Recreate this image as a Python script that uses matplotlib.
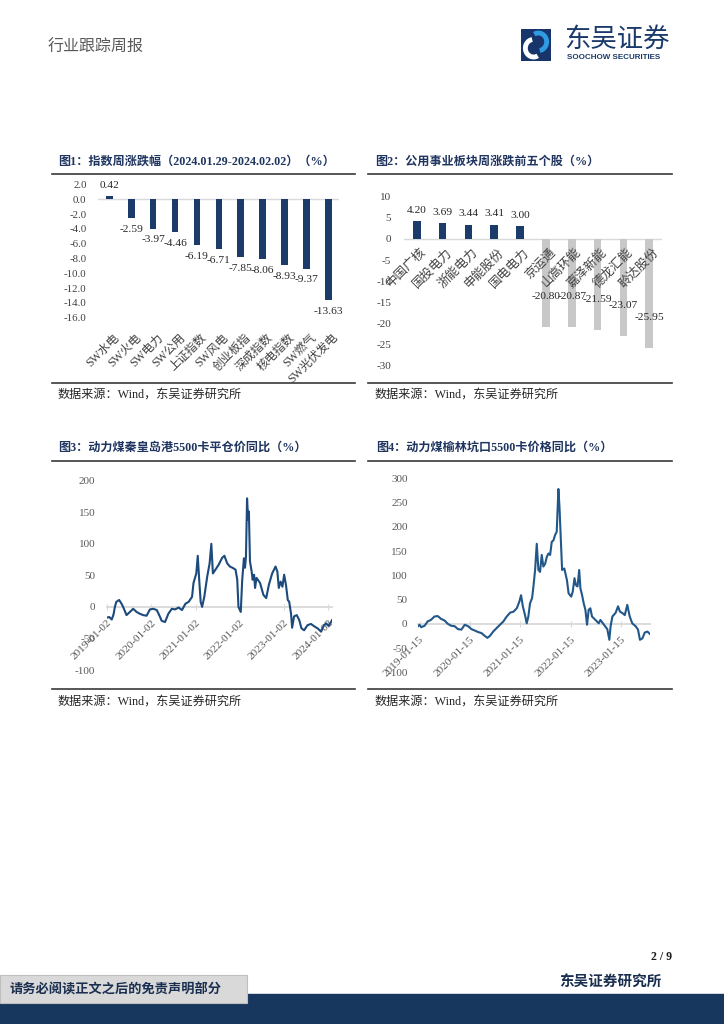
import numpy as np
import pandas as pd
import matplotlib
matplotlib.use("Agg")
import matplotlib.pyplot as plt
from matplotlib.lines import Line2D
from matplotlib.patches import Rectangle, Arc

# ---- data ----
cats1 = ['SW水电', 'SW火电', 'SW电力', 'SW公用', '上证指数', 'SW风电',
         '创业板指', '深成指数', '核电指数', 'SW燃气', 'SW光伏发电']
vals1 = [0.42, -2.59, -3.97, -4.46, -6.19, -6.71, -7.85, -8.06, -8.93, -9.37, -13.63]

cats2 = ['中国广核', '国投电力', '浙能电力', '申能股份', '国电电力',
         '京运通', '山高环能', '嘉泽新能', '德龙汇能', '聆达股份']
vals2 = [4.20, 3.69, 3.44, 3.41, 3.00, -20.80, -20.87, -21.59, -23.07, -25.95]

qhd_dates = ['2019-01-02', '2019-01-20', '2019-02-10', '2019-02-25', '2019-03-08', '2019-03-20',
             '2019-04-12', '2019-05-02', '2019-05-15', '2019-06-12', '2019-07-10', '2019-08-06',
             '2019-09-03', '2019-10-01', '2019-10-28', '2019-11-25', '2019-12-22', '2020-01-19',
             '2020-02-17', '2020-03-15', '2020-03-28', '2020-04-25', '2020-05-22', '2020-06-20',
             '2020-07-17', '2020-08-15', '2020-09-12', '2020-10-10', '2020-11-06', '2020-12-04',
             '2020-12-16', '2021-01-08', '2021-01-20', '2021-02-01', '2021-02-13', '2021-02-25',
             '2021-03-15', '2021-04-08', '2021-04-28', '2021-05-12', '2021-05-25', '2021-06-15',
             '2021-07-12', '2021-08-10', '2021-08-28', '2021-09-20', '2021-10-12', '2021-11-03',
             '2021-11-28', '2021-12-12', '2021-12-22', '2022-01-10', '2022-01-22', '2022-02-05',
             '2022-02-14', '2022-02-22', '2022-03-03', '2022-03-12', '2022-03-18', '2022-03-27',
             '2022-04-10', '2022-04-18', '2022-04-30', '2022-05-08', '2022-05-20', '2022-06-18',
             '2022-07-16', '2022-08-08', '2022-08-30', '2022-09-26', '2022-10-24', '2022-11-08',
             '2022-11-20', '2022-12-05', '2022-12-20', '2023-01-03', '2023-01-18', '2023-02-02',
             '2023-02-14', '2023-03-01', '2023-03-10', '2023-03-26', '2023-04-17', '2023-05-08',
             '2023-05-26', '2023-06-17', '2023-07-15', '2023-08-12', '2023-09-10', '2023-10-06',
             '2023-11-03', '2023-11-25', '2023-12-15', '2024-01-04', '2024-01-25', '2024-02-02']
qhd_vals = [-17, -16, -20, -12, 0, 8,
            11, 5, 0, -13, -8, -3,
            -8, -11, -13, -14, -4, -3,
            -5, -16, -22, -24, -11, -3,
            -4, -1, -5, 5, 8, 16,
            38, 53, 81, 43, 8, 0,
            16, 48, 69, 100, 53, 59,
            67, 78, 81, 69, 64, 62,
            59, 43, 0, -8, 43, 77,
            62, 80, 172, 138, 151, 72,
            56, 43, 51, 30, 46, 38,
            19, 14, 35, 53, 64, 56,
            30, 40, 32, 51, 35, 11,
            8, -11, -33, -15, -13, -21,
            -34, -37, -29, -27, -31, -34,
            -39, -30, -26, -30, -24, -21]
qhd_ticks = ['2019-01-02', '2020-01-02', '2021-01-02', '2022-01-02', '2023-01-02', '2024-01-02']

yl_dates = ['2019-01-04', '2019-01-15', '2019-01-27', '2019-02-21', '2019-03-15', '2019-04-08',
            '2019-05-03', '2019-05-27', '2019-06-21', '2019-07-15', '2019-08-08', '2019-09-02',
            '2019-09-27', '2019-10-21', '2019-11-15', '2019-12-09', '2020-01-03', '2020-01-27',
            '2020-02-21', '2020-03-15', '2020-04-08', '2020-05-03', '2020-05-22', '2020-06-09',
            '2020-07-03', '2020-07-27', '2020-08-21', '2020-09-15', '2020-10-09', '2020-11-03',
            '2020-11-27', '2020-12-21', '2021-01-09', '2021-01-21', '2021-02-03', '2021-02-21',
            '2021-03-03', '2021-03-15', '2021-03-27', '2021-04-11', '2021-04-21', '2021-05-03',
            '2021-05-15', '2021-05-27', '2021-06-08', '2021-06-20', '2021-07-02', '2021-07-15',
            '2021-07-27', '2021-08-08', '2021-08-20', '2021-09-01', '2021-09-13', '2021-09-25',
            '2021-10-07', '2021-10-19', '2021-10-27', '2021-11-06', '2021-11-15', '2021-12-01',
            '2021-12-20', '2022-01-01', '2022-01-20', '2022-01-31', '2022-02-13', '2022-02-23',
            '2022-03-07', '2022-03-19', '2022-03-28', '2022-04-09', '2022-04-21', '2022-05-03',
            '2022-05-15', '2022-05-27', '2022-06-08', '2022-06-20', '2022-07-15', '2022-08-08',
            '2022-08-20', '2022-09-15', '2022-10-09', '2022-10-24', '2022-11-02', '2022-11-15',
            '2022-12-09', '2022-12-26', '2023-01-09', '2023-01-27', '2023-02-13', '2023-03-03',
            '2023-03-21', '2023-04-08', '2023-05-03', '2023-05-20', '2023-06-03', '2023-06-21',
            '2023-07-08', '2023-07-27', '2023-08-15']
yl_vals = [-5, -2, -7, -4, 5, 8,
           15, 16, 10, 7, 0, -4,
           -5, -11, -12, -2, -5, -11,
           -14, -17, -19, -25, -29, -25,
           -16, -9, -2, 5, 15, 23,
           25, 32, 46, 59, 36, 15,
           1, 15, 42, 53, 77, 111,
           165, 111, 107, 142, 118, 124,
           138, 145, 142, 169, 172, 183,
           190, 278, 241, 172, 111, 114,
           90, 63, 56, 66, 94, 80,
           77, 111, 73, 59, 42, 29,
           -2, 29, 32, 15, 8, 1,
           8, -2, -11, -33, -5, 15,
           23, 36, 25, 22, 18, 39,
           15, 1, -5, -12, -33, -30,
           -18, -16, -21]
yl_ticks = ['2019-01-15', '2020-01-15', '2021-01-15', '2022-01-15', '2023-01-15']

# ---- page ----
W, H = 724, 1024
fig = plt.figure(figsize=(7.24, 10.24), dpi=100)

SERIF = ['Liberation Serif', 'Noto Sans CJK SC']
CJK = ['Noto Sans CJK SC']
NAVY = '#1b3c6b'
TITLE_C = '#1f3560'


def box(l, t, r, b):
    return fig.add_axes([l / W, 1 - b / H, (r - l) / W, (b - t) / H])


def ftext(x, y, s, **kw):
    kw.setdefault('va', 'center')
    fig.text(x / W, 1 - y / H, s, **kw)


def hline(x0, x1, y, **kw):
    fig.add_artist(Line2D([x0 / W, x1 / W], [1 - y / H, 1 - y / H], **kw))


# header
ftext(48, 47, '行业跟踪周报', family=CJK, size=11.5, color='#595959')
lg = box(521, 29, 551, 61)
lg.set_xlim(0, 1)
lg.set_ylim(0, 1)
lg.axis('off')
lg.add_patch(Rectangle((0, 0), 1, 1, color='#17356a'))
lg.add_patch(Arc((0.42, 0.40), 0.55, 0.55, theta1=100, theta2=300, color='white', lw=3.5))
lg.add_patch(Arc((0.58, 0.60), 0.55, 0.55, theta1=280, theta2=120, color='#2f9be3', lw=3.5))
ftext(564, 39, '东吴证券', family=CJK, size=19, color='#1a3a6b')
ftext(567, 57.5, 'SOOCHOW SECURITIES', family='Liberation Sans', weight='bold', size=5.8, color='#1a3a6b')

# section frames
titles = [(58, 162, '图1：指数周涨跌幅（2024.01.29-2024.02.02）（%）'),
          (375, 162, '图2：公用事业板块周涨跌前五个股（%）'),
          (58, 448, '图3：动力煤秦皇岛港5500卡平仓价同比（%）'),
          (376, 448, '图4：动力煤榆林坑口5500卡价格同比（%）')]
for x, y, s in titles:
    ftext(x, y, s, family=SERIF, weight='bold', size=8.7, color=TITLE_C)
for x0, x1 in [(52, 355), (368, 672)]:
    hline(x0, x1, 174, color='#3a3a3a', lw=1.2)
    hline(x0, x1, 383, color='#3a3a3a', lw=1.2)
    hline(x0, x1, 461, color='#3a3a3a', lw=1.2)
    hline(x0, x1, 689, color='#3a3a3a', lw=1.2)
src = '数据来源：Wind，东吴证券研究所'
for x, y in [(58, 395), (375, 395), (58, 702), (375, 702)]:
    ftext(x, y, src, family=SERIF, size=8.7, color='#262626')

# ---- figure 1 ----
ax1 = box(98.4, 184.5, 339.3, 317.7)
x1 = np.arange(len(cats1))
ax1.bar(x1, vals1, width=0.3, color=NAVY, zorder=2)
ax1.axhline(0, color='#d9d9d9', lw=1, zorder=1)
ax1.set_xlim(-0.5, len(cats1) - 0.5)
ax1.set_ylim(-16, 2)
yt1 = np.arange(-16, 2.1, 2)
ax1.set_yticks(yt1)
ax1.set_yticklabels([f'{v:.1f}' for v in yt1], family='Liberation Serif', size=7.8, color='#404040')
ax1.tick_params(axis='y', length=0, pad=8.5)
ax1.set_xticks([])
for s in ax1.spines.values():
    s.set_visible(False)
for i, v in enumerate(vals1):
    ax1.annotate(f'{v:.2f}', (i, v), xytext=(0, 8 if v >= 0 else -8), textcoords='offset points',
                 ha='center', va='center', family='Liberation Serif', size=8.2, color='#262626')
    ax1.annotate(cats1[i], (i, 0), xycoords=('data', 'axes fraction'), xytext=(2.7, -10),
                 textcoords='offset points', ha='right', va='top', rotation=45,
                 rotation_mode='anchor', family=SERIF, size=8.5, color='#404040')

# ---- figure 2 ----
ax2 = box(403.8, 196.9, 662.2, 365.3)
x2 = np.arange(len(cats2))
colors2 = [NAVY if v >= 0 else '#c8c8c8' for v in vals2]
ax2.bar(x2, vals2, width=0.3, color=colors2, zorder=2)
ax2.axhline(0, color='#d9d9d9', lw=1, zorder=1)
ax2.set_xlim(-0.5, len(cats2) - 0.5)
ax2.set_ylim(-30, 10)
yt2 = np.arange(-30, 11, 5)
ax2.set_yticks(yt2)
ax2.set_yticklabels([str(v) for v in yt2], family='Liberation Serif', size=8, color='#404040')
ax2.tick_params(axis='y', length=0, pad=9)
ax2.set_xticks([])
for s in ax2.spines.values():
    s.set_visible(False)
for i, v in enumerate(vals2):
    ax2.annotate(f'{v:.2f}', (i, v), xytext=(0, 8 if v >= 0 else 22), textcoords='offset points',
                 ha='center', va='center', family='Liberation Serif', size=8.2, color='#262626', zorder=4)
    ax2.annotate(cats2[i], (i, 0), xytext=(2.4, -5), textcoords='offset points',
                 ha='right', va='top', rotation=45, rotation_mode='anchor',
                 family=SERIF, size=9, color='#404040', zorder=4)


# ---- figures 3 and 4 ----
def line_panel(ax, dates, vals, ticks, ylim, step, color, pad):
    d = pd.to_datetime(dates)
    ax.plot(d, vals, color=color, lw=1.5, zorder=3)
    ax.set_xlim(d[0], d[-1])
    ax.set_ylim(*ylim)
    yt = np.arange(ylim[0], ylim[1] + 1, step)
    ax.set_yticks(yt)
    ax.set_yticklabels([str(v) for v in yt], family='Liberation Serif', size=8, color='#595959')
    ax.tick_params(axis='y', length=0, pad=pad)
    for k in ['top', 'right', 'left']:
        ax.spines[k].set_visible(False)
    ax.spines['bottom'].set_position(('data', 0))
    ax.spines['bottom'].set_color('#d9d9d9')
    ax.spines['bottom'].set_linewidth(1.3)
    ax.spines['bottom'].set_zorder(1)
    ax.set_xticks(pd.to_datetime(ticks))
    ax.set_xticklabels(ticks, family='Liberation Serif', size=8.2, color='#595959')
    ax.tick_params(axis='x', direction='inout', length=4, color='#d9d9d9', pad=6)
    plt.setp(ax.get_xticklabels(), rotation=45, ha='right', rotation_mode='anchor')


ax3 = box(107, 480.7, 332, 670)
line_panel(ax3, qhd_dates, qhd_vals, qhd_ticks, (-100, 200), 50, '#1c4a7c', 8.5)
ax4 = box(418, 478.3, 650, 672.3)
line_panel(ax4, yl_dates, yl_vals, yl_ticks, (-100, 300), 50, '#22578a', 7.5)

# footer
ftext(672, 957, '2 / 9', ha='right', family='Liberation Serif', weight='bold', size=8.5, color='#1a1a1a')
fig.add_artist(Rectangle((0, 0), 1, 30 / H, color='#17375e', transform=fig.transFigure))
fig.add_artist(Rectangle((0, 1 - 1003 / H), 247 / W, 28 / H, facecolor='#d9d9d9',
                         edgecolor='#bfbfbf', lw=0.8, transform=fig.transFigure))
ftext(10, 990, '请务必阅读正文之后的免责声明部分', family=CJK, weight='bold', size=9.5, color='#1a2f50')
ftext(662, 982, '东吴证券研究所', ha='right', family=CJK, weight='bold', size=10.5, color='#1a2f50')

fig.savefig('out.png', dpi=100)
